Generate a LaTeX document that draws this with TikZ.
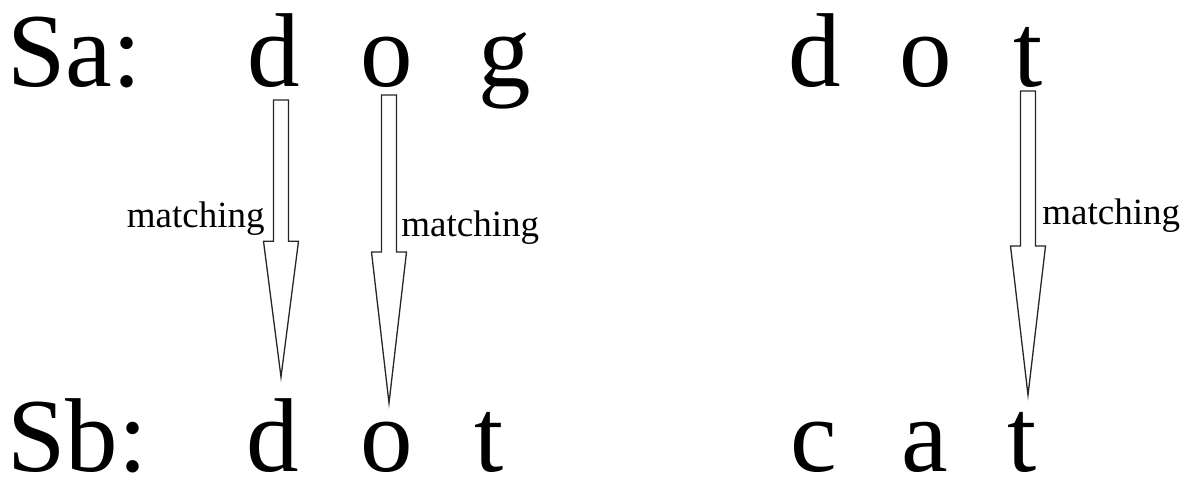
\documentclass[tikz,border=0pt]{standalone}
\usepackage{fontspec}
\setmainfont{Liberation Serif}
\usetikzlibrary{calc}
\tikzset{
  letter/.style={inner sep=0pt, anchor=base, font=\fontsize{52.5}{52.5}\selectfont},
  seqname/.style={letter, anchor=base west},
  matchtext/.style={inner sep=0pt, font=\fontsize{18.5}{18.5}\selectfont},
  blockarrow/.style={draw=black!85, line width=0.65pt, fill=white, line join=miter}
}
% hollow block arrow from #1 down to the tip #2
\newcommand{\matcharrow}[2]{%
  \draw[blockarrow] let \p1=(#1), \p2=(#2), \p3=($(\p1)!0.51!(\p2)$) in
    (\x1-3.75pt,\y1) -- (\x1-3.75pt,\y3) -- (\x1-8.75pt,\y3) -- (\x1,\y2)
    -- (\x1+8.75pt,\y3) -- (\x1+3.75pt,\y3) -- (\x1+3.75pt,\y1) -- cycle;}
\begin{document}
\begin{tikzpicture}[x=0.5pt,y=0.5pt]
\useasboundingbox (0,0) rectangle (1197,-482);
\node[seqname] (sa) at (7,-86) {Sa:};
\node[letter] (a1) at (274,-86) {d};
\node[letter] (a2) at (387,-86) {o};
\node[letter] (a3) at (505,-86) {g};
\node[seqname] (sb) at (7,-471) {Sb:};
\node[letter] (b1) at (273,-471) {d};
\node[letter] (b2) at (387,-471) {o};
\node[letter] (b3) at (489,-471) {t};
\node[letter] (c1) at (815,-86) {d};
\node[letter] (c2) at (926,-86) {o};
\node[letter] (c3) at (1028,-86) {t};
\node[letter] (e1) at (814,-471) {c};
\node[letter] (e2) at (925,-471) {a};
\node[letter] (e3) at (1022,-471) {t};
\matcharrow{$(a1.base)+(7,-14)$}{$(b1.base)+(8,94)$}
\matcharrow{$(a2.base)+(2,-9)$}{$(b2.base)+(2,68)$}
\matcharrow{$(c3.base)+(0,-5)$}{$(e3.base)+(6,76)$}
\node[matchtext, anchor=base east] (m1) at (265,-227) {matching};
\node[matchtext, anchor=base west] (m2) at (401,-236) {matching};
\node[matchtext, anchor=base west] (m3) at (1042,-224) {matching};
\end{tikzpicture}
\end{document}
